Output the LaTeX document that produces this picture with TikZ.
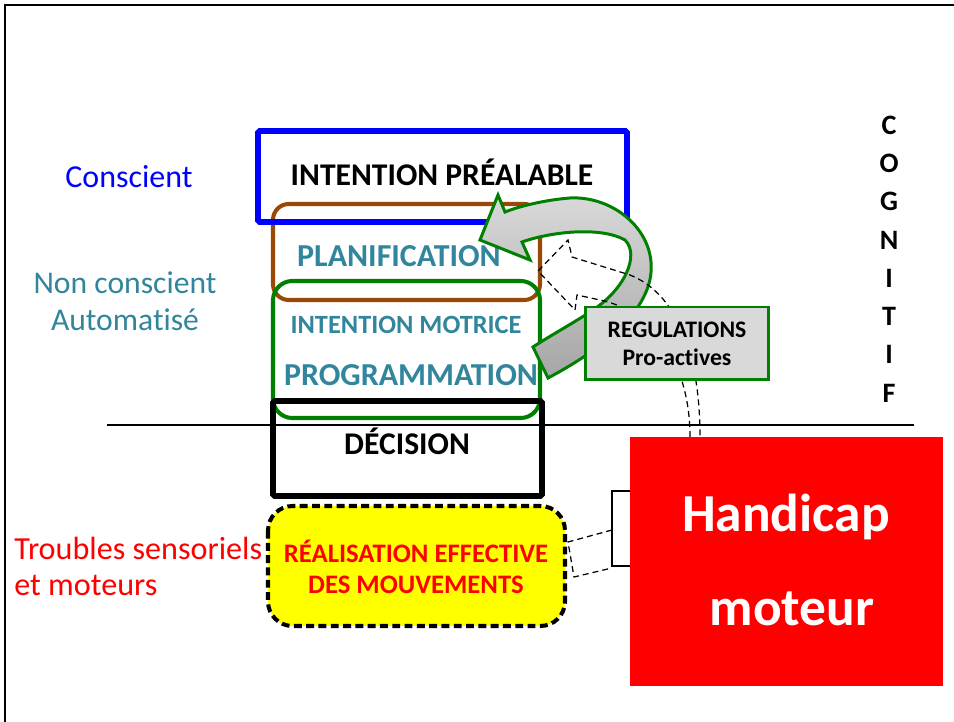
\documentclass[tikz,border=0pt]{standalone}
\usepackage{fontspec}
\setmainfont{Carlito}[Ligatures=NoCommon]
\definecolor{bleu}{HTML}{0000FF}
\definecolor{brun}{HTML}{984807}
\definecolor{vert}{HTML}{008000}
\definecolor{sarcelle}{HTML}{31859C}
\definecolor{rouge}{HTML}{FF0000}
\definecolor{jaune}{HTML}{FFFF00}
\definecolor{grisclair}{HTML}{D9D9D9}
\definecolor{grisfonce}{HTML}{A6A6A6}

\begin{document}
\begin{tikzpicture}[x=0.02cm, y=-0.02cm,
    niveau/.style={font=\bfseries\fontsize{18}{21}\selectfont, anchor=base},
    etape/.style={sarcelle, font=\bfseries\fontsize{18.2}{22}\selectfont, anchor=base},
    cogn/.style={font=\bfseries\fontsize{16}{18}\selectfont},
    pointille/.style={black, line width=0.7pt, dash pattern=on 3.4pt off 2.3pt}]
    \useasboundingbox (0,0) rectangle (954,722);
    \draw[black, line width=1.2pt] (5,722) -- (5,5) -- (954,5);

    % niveaux
    \draw[brun, line width=2.3pt, rounded corners=9pt] (273,204) rectangle (540,300);
    \draw[bleu, line width=3.4pt, rounded corners=1pt] (258,131) rectangle (627,222);
    \draw[vert, line width=2.3pt, rounded corners=11pt] (273,281) rectangle (540,418);
    \draw[black, line width=3.4pt, rounded corners=1pt] (273,401) rectangle (542,496);
    \draw[black, line width=1.1pt] (107,425) -- (914,425);
    \draw[black, line width=2.3pt, dash pattern=on 4.5pt off 2.5pt, fill=jaune, rounded corners=14pt] (268,506) rectangle (565,626);

    \node[niveau] (prealable) at (442,186) {INTENTION PRÉALABLE};
    \node[etape] (planif) at (399,267) {PLANIFICATION};
    \node[etape, font=\bfseries\fontsize{15}{18}\selectfont] (motrice) at (406,334) {INTENTION MOTRICE};
    \node[etape] (progr) at (411,386) {PROGRAMMATION};
    \node[niveau] (decision) at (407,455) {DÉCISION};
    \node[rouge, align=center, font=\bfseries\fontsize{15.2}{17.8}\selectfont] (realis) at (416,567) {RÉALISATION EFFECTIVE\\DES MOUVEMENTS};

    % fleche courbe
    \shadedraw[draw=vert, line width=1.7pt, top color=grisclair, bottom color=grisfonce]
        (548,378) .. controls (610,345) and (655,305) .. (651,262)
        .. controls (648,225) and (610,196) .. (570,198)
        .. controls (545,200) and (520,206) .. (505,212)
        -- (498,195) -- (480,240) -- (530,260) -- (522,242)
        .. controls (550,232) and (600,226) .. (625,240)
        .. controls (640,255) and (625,290) .. (590,312)
        .. controls (570,325) and (548,337) .. (533,347) -- cycle;

    % fleches en pointilles
    \draw[pointille] (690,437) .. controls (690,360) and (650,310) .. (600,300) -- (577,295)
        -- (575,310) -- (538,271) -- (568,240) -- (572,257) -- (630,275)
        .. controls (680,295) and (700,360) .. (700,437);
    \draw[pointille] (612,530) -- (568,542) -- (574,577) -- (612,568);
    \draw[black, line width=1.1pt, fill=white] (612,491) rectangle (640,566);

    \node[draw=vert, line width=1.7pt, fill=grisclair, minimum width=3.66cm, minimum height=1.46cm,
        align=center, font=\bfseries\fontsize{13.5}{16}\selectfont] (regul) at (677,343.5) {REGULATIONS\\Pro-actives};

    % handicap
    \fill[rouge] (630,437) rectangle (943,686);
    \node[white, anchor=base, font=\bfseries\fontsize{30.4}{36}\selectfont] (handi) at (786,532) {Handicap};
    \node[white, anchor=base, font=\bfseries\fontsize{30.4}{36}\selectfont] (moteur) at (792,626) {moteur};

    % etiquettes
    \node[bleu, font=\fontsize{18.2}{21}\selectfont] (consc) at (129,177) {Conscient};
    \node[sarcelle, align=center, font=\fontsize{18}{21}\selectfont] (nonconsc) at (125,301) {Non conscient\\Automatisé};
    \node[rouge, align=left, anchor=west, inner sep=0pt, font=\fontsize{18.3}{20.5}\selectfont] (troubles) at (14,566) {Troubles sensoriels\\et moteurs};

    \foreach \l [count=\i] in {C,O,G,N,I,T,I,F}
        \node[cogn] (cog\i) at (889,{125+38.3*(\i-1)}) {\l};
\end{tikzpicture}
\end{document}
